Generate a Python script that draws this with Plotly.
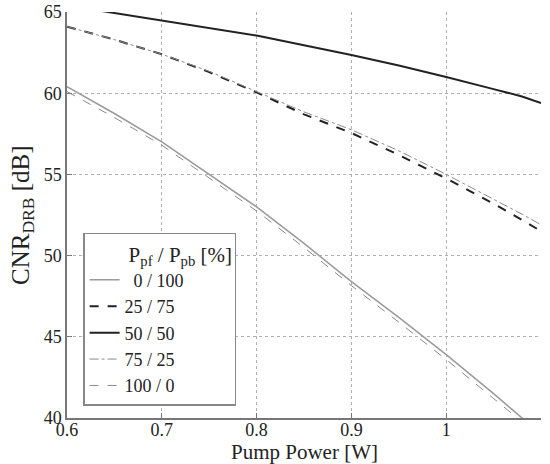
import plotly.graph_objects as go

power = [0.6, 0.65, 0.7, 0.75, 0.8, 0.85, 0.9, 0.95, 1.0, 1.05, 1.08, 1.1]

cnr_0_100 = [60.4, 58.75, 57.0, 55.0, 53.0, 50.75, 48.4, 46.2, 43.9, 41.5, 40.0, 39.0]
cnr_25_75 = [64.1, 63.3, 62.4, 61.3, 60.05, 58.7, 57.55, 56.2, 54.75, 53.2, 52.2, 51.5]
cnr_50_50 = [65.4, 64.93, 64.45, 64.0, 63.55, 62.95, 62.35, 61.7, 61.0, 60.25, 59.8, 59.4]
cnr_75_25 = [64.1, 63.3, 62.4, 61.35, 60.1, 58.85, 57.75, 56.45, 55.0, 53.5, 52.55, 51.9]
cnr_100_0 = [60.1, 58.5, 56.8, 54.8, 52.75, 50.5, 48.15, 45.9, 43.6, 41.2, 39.8, 38.8]

labels = ["\u00a0\u00a00 / 100", "25 / 75", "50 / 50", "75 / 25", "100 / 0"]
x_ticks = [0.6, 0.7, 0.8, 0.9, 1.0, 1.1]
x_tick_text = ["0.6", "0.7", "0.8", "0.9", "1", "1.1"]
y_ticks = [40, 45, 50, 55, 60, 65]

series = [cnr_0_100, cnr_25_75, cnr_50_50, cnr_75_25, cnr_100_0]
styles = [
    dict(color="#9a9a9a", width=1.5, dash="solid"),
    dict(color="#222222", width=2, dash="dash"),
    dict(color="#222222", width=2, dash="solid"),
    dict(color="#8a8a8a", width=1, dash="dashdot"),
    dict(color="#8a8a8a", width=1, dash="dash"),
]

FONT = "Times New Roman, Liberation Serif, serif"

fig = go.Figure()
for name, ys, st in zip(labels, series, styles):
    fig.add_trace(go.Scatter(x=power, y=ys, mode="lines", name=name, line=st))

fig.update_layout(
    width=550, height=464,
    margin=dict(l=67, r=9, t=12, b=46),
    paper_bgcolor="white", plot_bgcolor="white",
    font=dict(family=FONT, size=18, color="#222"),
    legend=dict(
        x=0.034, y=0.456, xanchor="left", yanchor="top",
        bordercolor="#888", borderwidth=1.5, bgcolor="white",
        title=dict(text='<span style="color:rgba(0,0,0,0)">xxxx</span>'
                        'P<sub>pf</sub> / P<sub>pb</sub> [%]',
                   font=dict(family=FONT, size=21)),
        font=dict(family=FONT, size=18), tracegroupgap=0, itemwidth=30,
    ),
    showlegend=True,
    annotations=[
        dict(text="Pump Power [W]", x=0.5, y=-0.083, xref="paper", yref="paper",
             xanchor="center", yanchor="middle", showarrow=False,
             font=dict(family=FONT, size=21, color="#222")),
        dict(text="CNR<sub>DRB</sub> [dB]", x=-0.095, y=0.5, xref="paper", yref="paper",
             xanchor="center", yanchor="middle", showarrow=False, textangle=-90,
             font=dict(family=FONT, size=25, color="#222")),
    ],
)
fig.update_xaxes(
    range=[0.6, 1.1], tickvals=x_ticks, ticktext=x_tick_text,
    showgrid=True, gridcolor="#b0b0b0", griddash="dot", gridwidth=1,
    showline=True, linecolor="#777", linewidth=1.5,
    ticks="inside", ticklen=5, tickcolor="#777", zeroline=False,
    tickfont=dict(family=FONT, size=18), automargin=False,
    ticklabelstandoff=-5,
)
fig.update_yaxes(
    range=[40, 65], tickvals=y_ticks,
    showgrid=True, gridcolor="#b0b0b0", griddash="dot", gridwidth=1,
    showline=True, linecolor="#777", linewidth=1.5,
    ticks="inside", ticklen=5, tickcolor="#777", zeroline=False,
    tickfont=dict(family=FONT, size=18), automargin=False,
)

fig.write_html(
    "out.html",
    config={"displayModeBar": False},
    post_script="document.body.style.margin='0';"
                "document.documentElement.style.overflow='hidden';",
)
